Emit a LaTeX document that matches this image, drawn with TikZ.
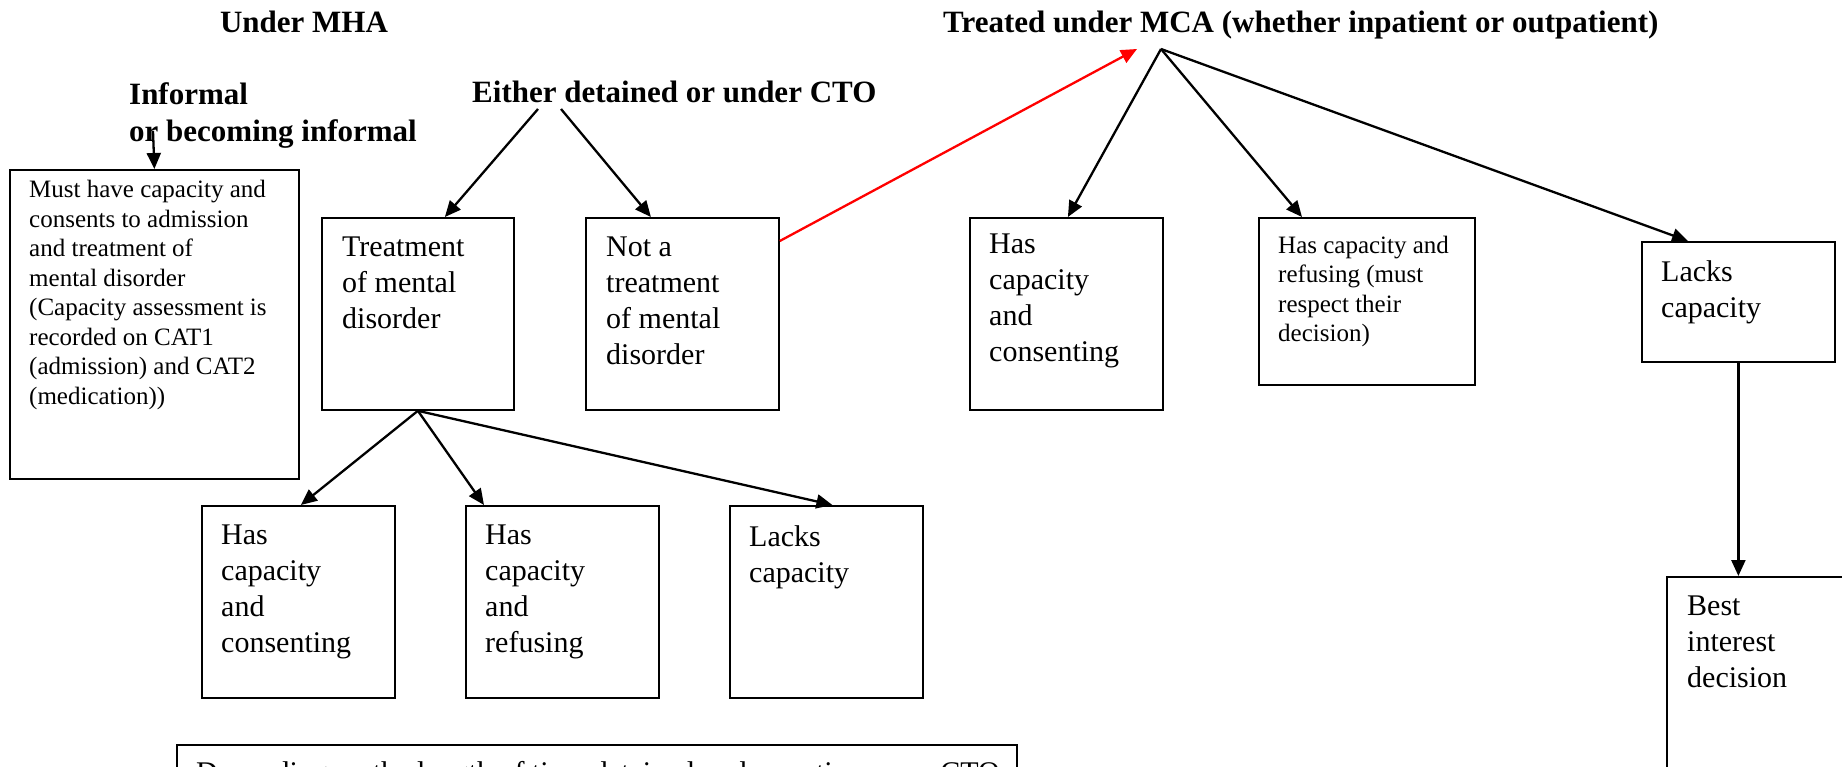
\documentclass[tikz,border=0pt]{standalone}
\usepackage{fontspec}
\setmainfont{Liberation Serif}
\usetikzlibrary{arrows.meta,calc}
\begin{document}
\begin{tikzpicture}[x=1pt,y=-1pt,
  box/.style={draw,line width=1.8pt,rectangle,inner sep=0pt,anchor=north west},
  big/.style={font=\fontsize{30}{36}\selectfont,align=left,inner sep=0pt,anchor=north west},
  small/.style={font=\fontsize{25}{29.5}\selectfont,align=left,inner sep=0pt,anchor=north west},
  head/.style={font=\fontsize{31}{37}\selectfont\bfseries,align=left,inner sep=0pt},
  arr/.style={line width=2.3pt,-{Triangle[length=16pt,width=14pt]}},
  redarr/.style={arr,red}]
\useasboundingbox (0,0) rectangle (1842,767);
\clip (0,0) rectangle (1842,767);

% headings
\node[head,anchor=base] (mha) at (304,33) {Under MHA};
\node[head,anchor=base west] (mca) at (943,33) {Treated under MCA (whether inpatient or outpatient)};
\node[head,anchor=north west] (inf) at (129,82.5) {Informal\\or becoming informal};
\node[head,anchor=base west] (eith) at (472,103) {Either detained or under CTO};

% boxes
\node[box,minimum width=289pt,minimum height=309pt] (lb) at (9,169) {};
\node[box,minimum width=192pt,minimum height=192pt] (tmd) at (321,217) {};
\node[box,minimum width=193pt,minimum height=192pt] (nat) at (585,217) {};
\node[box,minimum width=193pt,minimum height=192pt] (hc1) at (201,505) {};
\node[box,minimum width=193pt,minimum height=192pt] (hr1) at (465,505) {};
\node[box,minimum width=193pt,minimum height=192pt] (lc1) at (729,505) {};
\node[box,minimum width=193pt,minimum height=192pt] (hcc) at (969,217) {};
\node[box,minimum width=216pt,minimum height=167pt] (hcr) at (1258,217) {};
\node[box,minimum width=193pt,minimum height=120pt] (lc2) at (1641,241) {};
\node[box,minimum width=250pt,minimum height=300pt] (bid) at (1666,576) {};
\node[box,minimum width=840pt,minimum height=100pt] (dep) at (176,744) {};

% box texts
\node[small] (lbt) at (29,180) {Must have capacity and\\consents to admission\\and treatment of\\mental disorder\\(Capacity assessment is\\recorded on CAT1\\(admission) and CAT2\\(medication))};
\node[big] (tmdt) at (342,237) {Treatment\\of mental\\disorder};
\node[big] (natt) at (606,237) {Not a\\treatment\\of mental\\disorder};
\node[big] (hc1t) at (221,525) {Has\\capacity\\and\\consenting};
\node[big] (hr1t) at (485,525) {Has\\capacity\\and\\refusing};
\node[big] (lc1t) at (749,525) {Lacks\\capacity};
\node[big] (hcct) at (989,234) {Has\\capacity\\and\\consenting};
\node[small] (hcrt) at (1278,235.5) {Has capacity and\\refusing (must\\respect their\\decision)};
\node[big] (lc2t) at (1661,260) {Lacks\\capacity};
\node[big] (bidt) at (1687,596) {Best\\interest\\decision};
\node[big] (dept) at (196,761) {Depending on the length of time detained under section or on CTO};

% connector points
\coordinate (infs) at (153,131);
\coordinate (e1) at (538,109);
\coordinate (e2) at (561,109);
\coordinate (mcap) at (1161,49);
\coordinate (redend) at (1137,49);

% connectors
\draw[arr] (infs) -- (lb.north);
\draw[arr] (e1) -- ($(tmd.north)+(27,0)$);
\draw[arr] (e2) -- ($(nat.north)+(-31.5,0)$);
\draw[arr] (tmd.south) -- ($(hc1.north)+(2.5,0)$);
\draw[arr] (tmd.south) -- ($(hr1.north west)+(19,0)$);
\draw[arr] (tmd.south) -- ($(lc1.north)+(6,0)$);
\draw[redarr] ($(nat.north east)+(0,24)$) -- (redend);
\draw[arr] (mcap) -- ($(hcc.north)+(1.5,0)$);
\draw[arr] (mcap) -- ($(hcr.north west)+(44,0)$);
\draw[arr] (mcap) -- ($(lc2.north west)+(47,0)$);
\draw[arr] (lc2.south) -- (lc2.south |- bid.north);
\end{tikzpicture}
\end{document}
